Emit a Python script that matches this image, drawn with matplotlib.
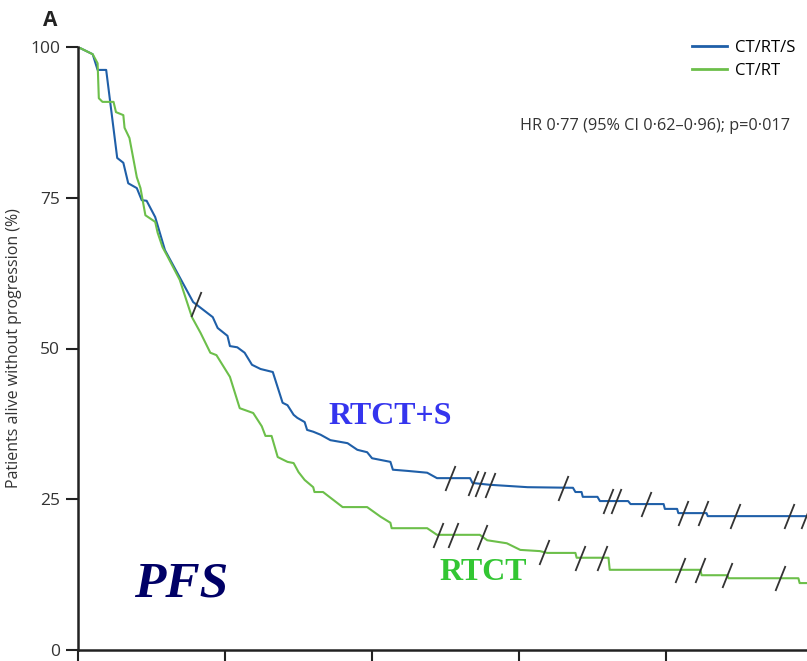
import numpy as np
import matplotlib.pyplot as plt
from matplotlib.path import Path

# months, % alive without progression
blue_t = [0, 1.2, 1.6, 2.3, 3.2, 3.7, 4.1, 4.8, 5.2, 5.6, 6.3, 7.1, 9.4, 11.0, 11.4, 12.2, 12.4, 13.0,
          13.6, 14.2, 14.9, 15.9, 16.7, 17.1, 17.6, 17.9, 18.5, 18.7, 19.2, 19.8, 20.6, 22.0, 22.8, 23.6,
          24.0, 25.5, 25.7, 26.9, 28.5, 29.3, 32.0, 32.2, 33.6, 36.7, 40.4, 40.6, 41.1, 41.2, 42.4, 42.6,
          44.9, 45.1, 47.8, 47.9, 48.9, 49.0, 51.3, 51.4, 60]
blue_s = [100, 98.8, 96.2, 96.2, 81.6, 80.8, 77.4, 76.6, 74.6, 74.5, 71.8, 66.3, 57.7, 55.2, 53.4, 52.1,
          50.4, 50.2, 49.3, 47.3, 46.6, 46.1, 41.0, 40.6, 39.0, 38.5, 37.8, 36.5, 36.2, 35.7, 34.8, 34.3,
          33.2, 32.8, 31.8, 31.2, 29.9, 29.7, 29.4, 28.5, 28.5, 27.7, 27.4, 27.0, 26.9, 26.2, 26.2, 25.4,
          25.4, 24.7, 24.7, 24.2, 24.2, 23.4, 23.4, 22.7, 22.7, 22.2, 22.2]

green_t = [0, 1.2, 1.6, 1.7, 2.0, 2.9, 3.1, 3.7, 3.8, 4.2, 4.8, 5.1, 5.5, 6.3, 6.5, 6.9, 7.3, 8.3, 9.3,
           10.0, 10.8, 11.3, 12.4, 13.2, 14.3, 15.0, 15.3, 15.8, 16.3, 17.1, 17.6, 18.0, 18.5, 19.2, 19.3,
           20.0, 21.6, 23.6, 24.7, 25.5, 25.6, 28.5, 29.3, 32.8, 33.4, 35.0, 36.1, 37.7, 38.3, 40.6, 40.7,
           43.3, 43.4, 50.8, 50.9, 53.0, 53.1, 58.8, 58.9, 60]
green_s = [100, 98.8, 97.3, 91.5, 90.9, 90.9, 89.2, 88.7, 86.6, 84.9, 78.4, 76.6, 72.1, 71.0, 69.2, 66.8,
           65.3, 61.4, 55.2, 52.6, 49.3, 48.9, 45.3, 40.1, 39.3, 37.1, 35.5, 35.5, 32.0, 31.2, 31.0, 29.5,
           28.2, 27.0, 26.2, 26.2, 23.7, 23.7, 22.1, 21.1, 20.2, 20.2, 19.1, 19.1, 18.2, 17.7, 16.6, 16.4,
           16.1, 16.1, 15.3, 15.3, 13.3, 13.3, 12.4, 12.4, 11.9, 11.9, 11.1, 11.1]

# censoring times
blue_cens = [9.6, 30.4, 32.2, 32.8, 33.6, 39.6, 43.3, 43.9, 46.4, 49.4, 51.0, 53.6, 58.0, 59.4]
green_cens = [29.4, 30.6, 33.0, 38.0, 41.0, 42.8, 49.1, 50.8, 53.0, 57.3]

blue = '#1f5fa8'
green = '#6cbf4a'

plt.rcParams['font.family'] = ['Open Sans', 'DejaVu Sans']

fig = plt.figure(figsize=(8.07, 6.61), dpi=100)
ax = fig.add_axes([78/807, 11/661, 740/807, 603/661])

ax.plot(blue_t, blue_s, color=blue, lw=1.5, label='CT/RT/S')
ax.plot(green_t, green_s, color=green, lw=1.5, label='CT/RT')

tick = Path([(-0.2, -0.5), (0.2, 0.5)], [Path.MOVETO, Path.LINETO])
ax.plot(blue_cens, np.interp(blue_cens, blue_t, blue_s), ls='none', marker=tick,
        markersize=18, mew=1.3, color='#333333')
ax.plot(green_cens, np.interp(green_cens, green_t, green_s), ls='none', marker=tick,
        markersize=18, mew=1.3, color='#333333')

ax.set_xlim(0, 60.4)
ax.set_ylim(0, 100)
ax.set_xticks([0, 12, 24, 36, 48])
ax.set_xticklabels([])
ax.set_yticks([0, 25, 50, 75, 100])
ax.tick_params(axis='both', length=9, width=1.5, labelsize=12.5, colors='#222222', pad=4)
ax.tick_params(axis='y', labelcolor='#333333')
for s in ['top', 'right']:
    ax.spines[s].set_visible(False)
for s in ['left', 'bottom']:
    ax.spines[s].set_linewidth(1.8)
    ax.spines[s].set_color('#222222')
ax.spines['left'].set_bounds(0, 100)
ax.set_ylabel('Patients alive without progression (%)', fontsize=11.5, color='#333333', labelpad=6)

leg = ax.legend(loc='upper right', bbox_to_anchor=(0.99, 1.037), frameon=False, fontsize=12,
                handlelength=2.1, handletextpad=0.5, labelspacing=0.45)
for h in leg.legend_handles:
    h.set_linewidth(2)

ax.text(0.962, 0.869, 'HR 0·77 (95% CI 0·62–0·96); p=0·017', transform=ax.transAxes,
        ha='right', va='center', fontsize=11.7, color='#333333')

fig.text(50/807, 1 - 21/661, 'A', fontsize=15, fontweight='bold', ha='center', va='center', color='#222222')

ax.text(25.5, 38.8, 'RTCT+S', family='Liberation Serif', fontweight='bold', fontsize=23,
        color='#3535ee', ha='center', va='center')
ax.text(33.1, 12.8, 'RTCT', family='Liberation Serif', fontweight='bold', fontsize=23,
        color='#33c633', ha='center', va='center')
ax.text(8.4, 10.8, 'PFS', family='Liberation Serif', fontweight='bold', style='italic', fontsize=37,
        color='#000066', ha='center', va='center')

fig.savefig('out.png', dpi=100)
